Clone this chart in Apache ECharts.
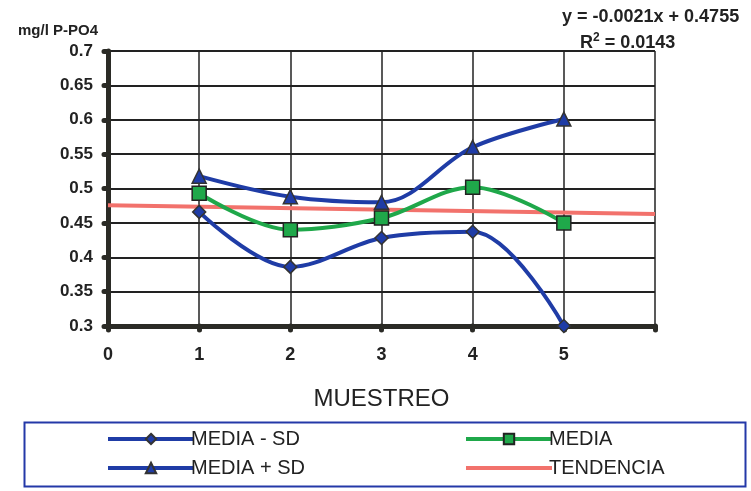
<!DOCTYPE html>
<html>
<head>
<meta charset="utf-8">
<script src="https://cdn.jsdelivr.net/npm/echarts@6/dist/echarts.min.js"></script>
<style>
  html, body { margin: 0; padding: 0; background: #fff; }
  #chart { width: 751px; height: 491px; }
</style>
</head>
<body>
<div id="chart"></div>
<script>
// Sampling rounds (MUESTREO) and phosphate values in mg/l P-PO4
const samples = [1, 2, 3, 4, 5];
const mediaMinusSd = [0.466, 0.386, 0.428, 0.437, 0.300];
const media = [0.493, 0.440, 0.457, 0.502, 0.450];
const mediaPlusSd = [0.518, 0.488, 0.480, 0.560, 0.601];
// Linear trend y = slope * x + intercept
const trendSlope = -0.0021;
const trendIntercept = 0.4755;
const trendX = [0, 6];
const xTicks = [0, 1, 2, 3, 4, 5];

const pair = (xs, ys) => xs.map((x, i) => [x, ys[i]]);
const trendData = trendX.map(x => [x, trendSlope * x + trendIntercept]);

const BLUE = '#1f3ca6';
const GREEN = '#1fa84a';
const RED = '#f2726c';
const FONT = '"Liberation Sans", Arial, sans-serif';

const legendCommon = {
  orient: 'vertical', itemGap: 7, itemWidth: 86, itemHeight: 13,
  lineStyle: { width: 4 },
  textStyle: { fontFamily: FONT, fontSize: 20, lineHeight: 22, color: '#222', padding: [0, 0, 0, -8] }
};

const chart = echarts.init(document.getElementById('chart'), null, { renderer: 'canvas' });
chart.setOption({
  animation: false,
  backgroundColor: '#fff',
  grid: { left: 108, right: 96, top: 51, bottom: 165, containLabel: false },
  xAxis: {
    type: 'value', min: 0, max: 6, interval: 1,
    name: 'MUESTREO', nameLocation: 'middle', nameGap: 61,
    nameTextStyle: { fontFamily: FONT, fontSize: 24, color: '#222' },
    axisLine: { lineStyle: { color: '#2b2b26', width: 5 } },
    axisTick: { show: true, length: 4, lineStyle: { color: '#2b2b26', width: 5, cap: 'round' } },
    axisLabel: {
      fontFamily: FONT, fontWeight: 'bold', fontSize: 18, color: '#222', margin: 20,
      formatter: v => (xTicks.indexOf(v) >= 0 ? String(v) : '')
    },
    splitLine: { show: true, lineStyle: { color: '#222', width: 1.5 } }
  },
  yAxis: {
    type: 'value', min: 0.3, max: 0.7, interval: 0.05,
    axisLine: { show: true, lineStyle: { color: '#2b2b26', width: 5 } },
    axisTick: { show: true, length: 4, lineStyle: { color: '#2b2b26', width: 5, cap: 'round' } },
    axisLabel: {
      fontFamily: FONT, fontWeight: 'bold', fontSize: 17, color: '#222', margin: 15,
      formatter: v => String(Math.round(v * 100) / 100)
    },
    splitLine: { show: true, lineStyle: { color: '#222', width: 2 } }
  },
  legend: [
    Object.assign({ left: 101, top: 423, data: ['MEDIA - SD', 'MEDIA + SD'] }, legendCommon),
    Object.assign({
      left: 459, top: 423,
      data: ['MEDIA', { name: 'TENDENCIA', itemStyle: { opacity: 0 } }]
    }, legendCommon)
  ],
  graphic: [
    { type: 'rect', left: 22, top: 420, shape: { width: 721, height: 64 },
      style: { fill: 'none', stroke: '#2438a8', lineWidth: 2 } },
    { type: 'text', left: 18, top: 23,
      style: { text: 'mg/l P-PO4', font: 'bold 15px ' + FONT, fill: '#222' } },
    { type: 'text', left: 562, top: 8,
      style: { text: 'y = -0.0021x + 0.4755', font: 'bold 18px ' + FONT, fill: '#222' } },
    { type: 'text', left: 580, top: 32,
      style: {
        text: '{r|R}{s|2}{r| = 0.0143}',
        rich: {
          r: { font: 'bold 18px ' + FONT, fill: '#222', verticalAlign: 'bottom' },
          s: { font: 'bold 12px ' + FONT, fill: '#222', verticalAlign: 'top', padding: [0, 0, 8, 0] }
        }
      } }
  ],
  series: [
    {
      name: 'TENDENCIA', type: 'line', data: trendData, symbol: 'none',
      lineStyle: { color: RED, width: 4 }, itemStyle: { color: RED }, z: 3
    },
    {
      name: 'MEDIA - SD', type: 'line', data: pair(samples, mediaMinusSd), smooth: 0.35,
      symbol: 'diamond', symbolSize: 13,
      lineStyle: { color: BLUE, width: 4 },
      itemStyle: { color: BLUE, borderColor: '#333', borderWidth: 1.5 }, z: 4
    },
    {
      name: 'MEDIA', type: 'line', data: pair(samples, media), smooth: 0.35,
      symbol: 'rect', symbolSize: 14,
      lineStyle: { color: GREEN, width: 4 },
      itemStyle: { color: GREEN, borderColor: '#222', borderWidth: 1.5 }, z: 4
    },
    {
      name: 'MEDIA + SD', type: 'line', data: pair(samples, mediaPlusSd), smooth: 0.35,
      symbol: 'triangle', symbolSize: 14,
      lineStyle: { color: BLUE, width: 4 },
      itemStyle: { color: BLUE, borderColor: '#333', borderWidth: 1.5 }, z: 4
    }
  ]
});
</script>
</body>
</html>
